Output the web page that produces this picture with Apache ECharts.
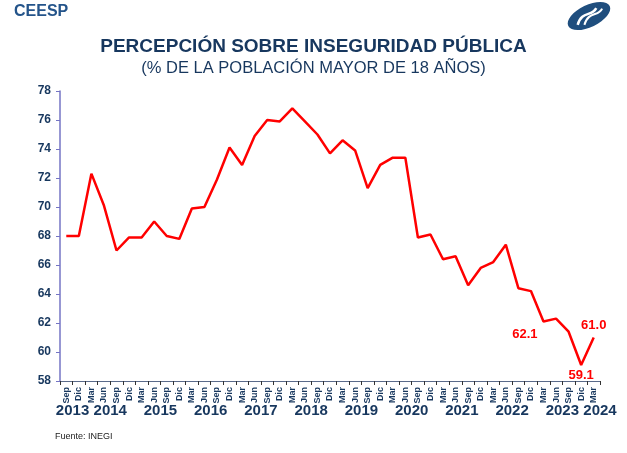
<!DOCTYPE html>
<html>
<head>
<meta charset="utf-8">
<script src="https://cdn.jsdelivr.net/npm/echarts@6/dist/echarts.min.js"></script>
<style>
  html, body { margin: 0; padding: 0; background: #fff; }
  #chart { width: 627px; height: 453px; }
</style>
</head>
<body>
<div id="chart"></div>
<script>
// trimestres (Sep 2013 .. Mar 2024)
const quarters = [
  'Sep', 'Dic',
  'Mar', 'Jun', 'Sep', 'Dic',
  'Mar', 'Jun', 'Sep', 'Dic',
  'Mar', 'Jun', 'Sep', 'Dic',
  'Mar', 'Jun', 'Sep', 'Dic',
  'Mar', 'Jun', 'Sep', 'Dic',
  'Mar', 'Jun', 'Sep', 'Dic',
  'Mar', 'Jun', 'Sep', 'Dic',
  'Mar', 'Jun', 'Sep', 'Dic',
  'Mar', 'Jun', 'Sep', 'Dic',
  'Mar', 'Jun', 'Sep', 'Dic',
  'Mar'
];

// años y número de trimestres de cada uno
const years = ['2013', '2014', '2015', '2016', '2017', '2018', '2019', '2020', '2021', '2022', '2023', '2024'];
const quartersPerYear = [2, 4, 4, 4, 4, 4, 4, 4, 4, 4, 4, 1];

// % de la población mayor de 18 años
const perception = [
  68.0, 68.0,
  72.3, 70.1, 67.0, 67.9,
  67.9, 69.0, 68.0, 67.8,
  69.9, 70.0, 71.9, 74.1,
  72.9, 74.9, 76.0, 75.9,
  76.8, 75.9, 75.0, 73.7,
  74.6, 73.9, 71.3, 72.9,
  73.4, 73.4, 67.9, 68.1,
  66.4, 66.6, 64.6, 65.8,
  66.2, 67.4, 64.4, 64.2,
  62.1, 62.3, 61.4, 59.1,
  61.0
];

// puntos con etiqueta (índice -> posición)
const labeledPoints = { 38: 'left', 41: 'bottom', 42: 'top' };

const NAVY = '#17375e';

// centro de cada año en unidades de trimestre (el último año va al final del eje)
const yearCenters = {};
let acc = 0;
quartersPerYear.forEach((n, i) => {
  const at = i === years.length - 1 ? acc + n : acc + n / 2;
  yearCenters[at.toFixed(1)] = years[i];
  acc += n;
});

const seriesData = perception.map((v, i) => {
  const pos = labeledPoints[i];
  if (!pos) return v;
  return {
    value: v,
    label: {
      show: true,
      position: pos,
      offset: pos === 'left' ? [-2, 13] : [0, 0],
      distance: pos === 'top' ? 6 : 4,
      formatter: p => p.value.toFixed(1),
      color: '#ff0000',
      fontWeight: 'bold',
      fontSize: 13,
      fontFamily: 'Liberation Sans, Arial'
    }
  };
});

const chart = echarts.init(document.getElementById('chart'));

chart.setOption({
  animation: false,
  textStyle: { fontFamily: 'Liberation Sans, Arial' },
  title: {
    text: 'PERCEPCIÓN SOBRE INSEGURIDAD PÚBLICA',
    subtext: '(% DE LA POBLACIÓN MAYOR DE 18 AÑOS)',
    left: 'center',
    top: 32,
    itemGap: 4,
    textStyle: { color: NAVY, fontSize: 19, fontWeight: 'bold', fontFamily: 'Liberation Sans, Arial' },
    subtextStyle: { color: NAVY, fontSize: 16.5, fontFamily: 'Liberation Sans, Arial' }
  },
  grid: { left: 60, right: 27, top: 91, bottom: 72 },
  xAxis: [{
    type: 'category',
    data: quarters,
    boundaryGap: true,
    axisLine: { lineStyle: { color: '#5a6a8a', width: 1 } },
    axisTick: { show: true, length: 4, lineStyle: { color: '#333' } },
    axisLabel: {
      interval: 0,
      rotate: 90,
      color: NAVY,
      fontSize: 9,
      fontWeight: 'bold',
      margin: 6
    }
  }, {
    type: 'value',
    position: 'bottom',
    min: 0,
    max: quarters.length,
    interval: 0.5,
    offset: 14,
    axisLine: { show: false },
    axisTick: { show: false },
    splitLine: { show: false },
    axisLabel: {
      showMinLabel: true,
      showMaxLabel: true,
      color: NAVY,
      fontSize: 15,
      fontWeight: 'bold',
      formatter: v => yearCenters[v.toFixed(1)] || ''
    }
  }],
  yAxis: {
    type: 'value',
    min: 58,
    max: 78,
    interval: 2,
    axisLine: { show: true, lineStyle: { color: '#7474c4', width: 1.5 } },
    axisTick: { show: true, length: 4, lineStyle: { color: '#7474c4' } },
    splitLine: { show: false },
    axisLabel: { color: NAVY, fontSize: 12, fontWeight: 'bold', margin: 9 }
  },
  series: [{
    type: 'line',
    data: seriesData,
    xAxisIndex: 0,
    showSymbol: true,
    symbol: 'circle',
    symbolSize: 0,
    label: { show: false },
    lineStyle: { color: '#ff0000', width: 2.5 },
    itemStyle: { color: '#ff0000' },
    z: 3
  }],
  graphic: [
    {
      type: 'text',
      left: 14,
      top: 4,
      style: { text: 'CEESP', fill: '#24548a', font: 'bold 16px Liberation Sans, Arial' }
    },
    {
      type: 'text',
      left: 55,
      top: 432,
      style: { text: 'Fuente: INEGI', fill: '#222', font: '9px Liberation Sans, Arial' }
    },
    {
      type: 'group',
      x: 589,
      y: 16,
      rotation: Math.PI / 7,
      children: [
        { type: 'ellipse', shape: { cx: 0, cy: 0, rx: 23, ry: 11 }, style: { fill: '#1f4e7e' } },
        { type: 'bezierCurve', shape: { x1: -14, y1: 3, x2: 10, y2: -4, cpx1: -4, cpy1: -8, cpx2: 2, cpy2: 2 },
          style: { stroke: '#fff', lineWidth: 2.5, fill: null } },
        { type: 'bezierCurve', shape: { x1: -8, y1: 6, x2: 15, y2: -1, cpx1: 2, cpy1: -5, cpx2: 8, cpy2: 5 },
          style: { stroke: '#fff', lineWidth: 2, fill: null } }
      ]
    }
  ]
});
</script>
</body>
</html>
